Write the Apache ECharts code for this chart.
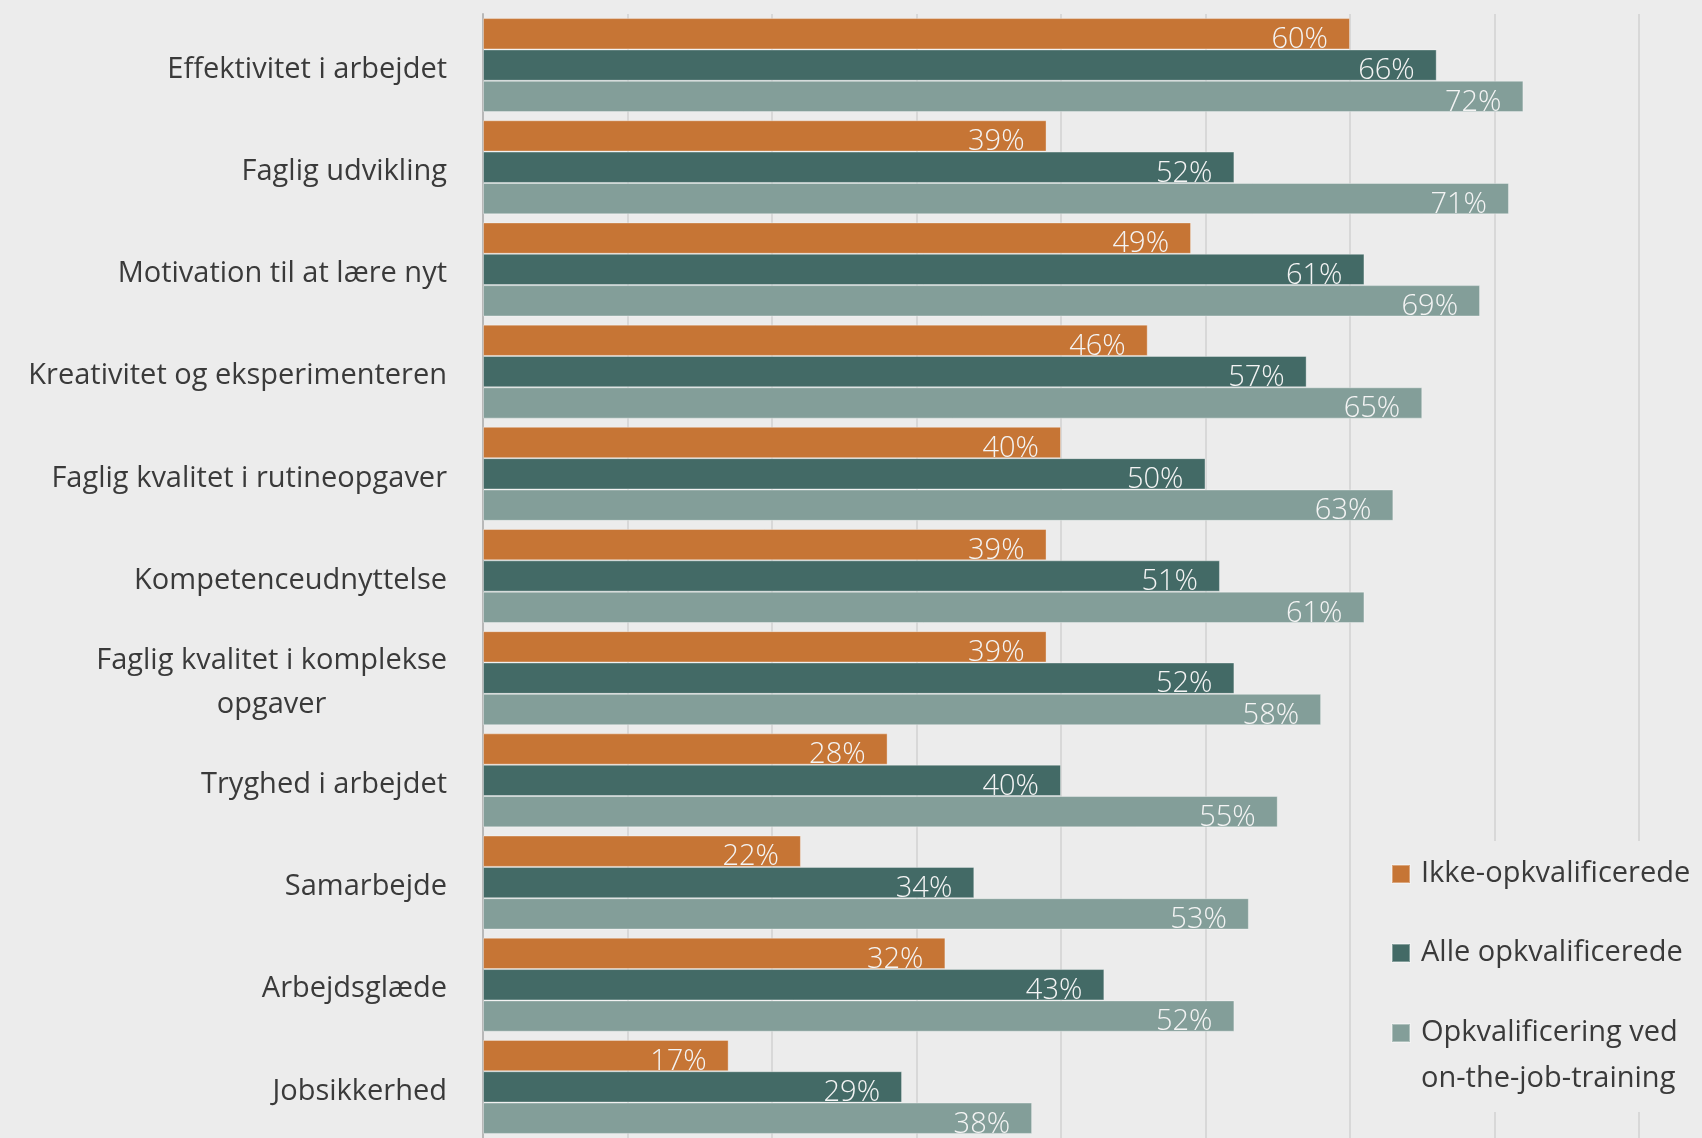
<!DOCTYPE html>
<html>
<head>
<meta charset="utf-8">
<script src="https://cdn.jsdelivr.net/npm/echarts@6/dist/echarts.min.js"></script>
<style>
html,body{margin:0;padding:0;background:#ececec;}
#chart{width:1702px;height:1138px;}
</style>
</head>
<body>
<div id="chart"></div>
<script>
const categories = [
  'Effektivitet i arbejdet',
  'Faglig udvikling',
  'Motivation til at lære nyt',
  'Kreativitet og eksperimenteren',
  'Faglig kvalitet i rutineopgaver',
  'Kompetenceudnyttelse',
  'Faglig kvalitet i komplekse\nopgaver',
  'Tryghed i arbejdet',
  'Samarbejde',
  'Arbejdsglæde',
  'Jobsikkerhed'
];
const seriesNames = ['Ikke-opkvalificerede', 'Alle opkvalificerede', 'Opkvalificering ved\non-the-job-training'];
const ikkeOpkval = [60, 39, 49, 46, 40, 39, 39, 28, 22, 32, 17];
const alleOpkval = [66, 52, 61, 57, 50, 51, 52, 40, 34, 43, 29];
const onTheJob   = [72, 71, 69, 65, 63, 61, 58, 55, 53, 52, 38];
const colors = ['#c67535', '#436a66', '#839e99'];

const FONT = '"Open Sans", "Noto Sans", sans-serif';
const chart = echarts.init(document.getElementById('chart'));

function mkSeries(name, data, color) {
  return {
    name: name,
    type: 'bar',
    data: data,
    barGap: '0%',
    barCategoryGap: '8%',
    itemStyle: { color: color, borderColor: 'rgba(255,255,255,0.35)', borderWidth: 1 },
    label: {
      show: true,
      position: 'insideRight',
      distance: 22,
      offset: [0, 6],
      formatter: '{c}%',
      color: '#f4f4f4',
      fontFamily: FONT,
      fontSize: 29,
      fontWeight: 300
    }
  };
}

function mkLegend(i, top, padding) {
  return {
    data: [seriesNames[i]],
    orient: 'vertical',
    left: 1381,
    top: top,
    padding: padding,
    backgroundColor: '#ececec',
    itemWidth: 18,
    itemHeight: 18,
    icon: 'rect',
    selectedMode: false,
    formatter: i === 2 ? function (n) { return '\n' + n; } : undefined,
    textStyle: {
      fontFamily: FONT,
      fontSize: 29,
      color: '#3a3a3a',
      lineHeight: 46,
      padding: [0, 0, 0, 6]
    }
  };
}

chart.setOption({
  backgroundColor: '#ececec',
  animation: false,
  color: colors,
  grid: { left: 483, top: 14, width: 1156, height: 1131, containLabel: false },
  xAxis: {
    type: 'value',
    min: 0,
    max: 80,
    interval: 10,
    axisLabel: { show: false },
    axisLine: { show: false },
    axisTick: { show: false },
    splitLine: { show: true, lineStyle: { color: '#d2d2d2', width: 1.5 } }
  },
  yAxis: {
    type: 'category',
    inverse: true,
    data: categories,
    axisTick: { show: false },
    axisLine: { show: true, lineStyle: { color: '#b8b8b8', width: 2 } },
    axisLabel: {
      margin: 36,
      fontFamily: FONT,
      fontSize: 29,
      color: '#3a3a3a',
      lineHeight: 44,
      padding: [9, 0, 0, 0],
      formatter: function (v) {
        if (v.indexOf('\n') >= 0) {
          return v.split('\n').map(function (s) { return '{c|' + s + '}'; }).join('\n');
        }
        return v;
      },
      rich: {
        c: { align: 'center', fontFamily: FONT, fontSize: 29, color: '#3a3a3a', lineHeight: 44 }
      }
    }
  },
  legend: [
    mkLegend(0, 841, [10, 10, 36, 10]),
    mkLegend(1, 922, [8, 10, 32, 10]),
    mkLegend(2, 964, [0, 10, 10, 10])
  ],
  series: [
    mkSeries(seriesNames[0], ikkeOpkval, colors[0]),
    mkSeries(seriesNames[1], alleOpkval, colors[1]),
    mkSeries(seriesNames[2], onTheJob, colors[2])
  ]
});
</script>
</body>
</html>
